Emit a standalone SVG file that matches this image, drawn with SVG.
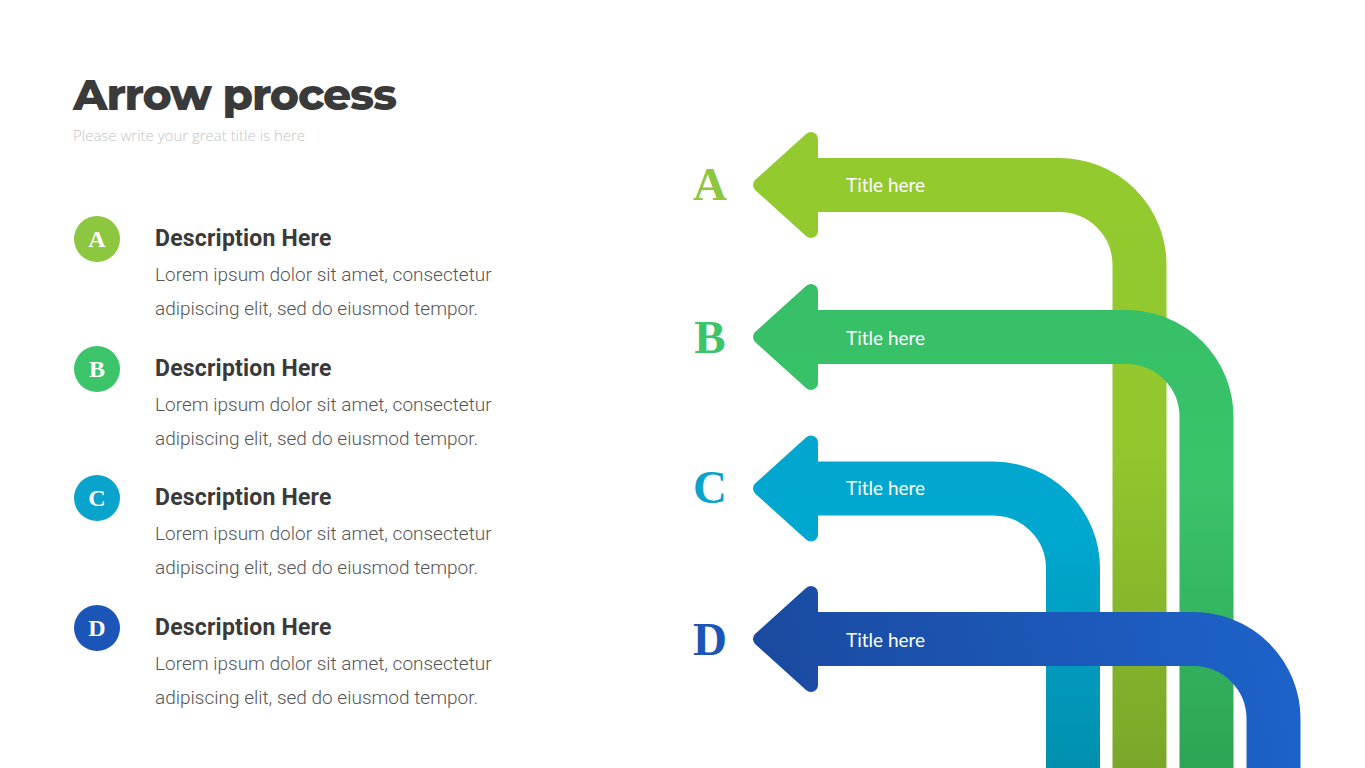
<svg xmlns="http://www.w3.org/2000/svg" width="1365" height="768" viewBox="0 0 1365 768">
<defs>
<linearGradient id="gA" gradientUnits="userSpaceOnUse" x1="0" y1="130" x2="0" y2="768"><stop offset="0" stop-color="#93cb2f"/><stop offset="0.5" stop-color="#92c72e"/><stop offset="1" stop-color="#7aa72a"/></linearGradient>
<linearGradient id="gB" gradientUnits="userSpaceOnUse" x1="0" y1="285" x2="0" y2="768"><stop offset="0" stop-color="#36bf66"/><stop offset="0.4" stop-color="#3ac46a"/><stop offset="1" stop-color="#2ea455"/></linearGradient>
<linearGradient id="gC" gradientUnits="userSpaceOnUse" x1="0" y1="435" x2="0" y2="768"><stop offset="0" stop-color="#02a6ce"/><stop offset="0.3" stop-color="#00a8cf"/><stop offset="1" stop-color="#028fae"/></linearGradient>
<linearGradient id="gD" gradientUnits="userSpaceOnUse" x1="752" y1="690" x2="1300" y2="600"><stop offset="0" stop-color="#1a4a9f"/><stop offset="1" stop-color="#1d63cb"/></linearGradient>
</defs>
<style>
.shaft{fill:none;stroke-width:54}
.head{stroke-width:14;stroke-linejoin:round}
.ttl{font-family:Lato,"Open Sans",sans-serif;font-size:19px;fill:#ffffff}
.big{font-family:"Liberation Serif",serif;font-weight:bold;font-size:47px;text-anchor:middle}
.cl{font-family:"Liberation Serif",serif;font-weight:bold;font-size:24px;fill:#ffffff;text-anchor:middle}
.dh{font-family:Roboto,sans-serif;font-weight:bold;font-size:23px;letter-spacing:0.2px;fill:#3a3a3a}
.dt{font-family:Roboto,sans-serif;font-weight:300;font-size:19px;fill:#555555}
</style>
<rect width="1365" height="768" fill="#ffffff"/>
<g id="header">
<text x="73" y="110" font-family="Montserrat,'Noto Sans',sans-serif" font-weight="800" font-size="44" letter-spacing="-1.2" fill="#3a3a3a">Arrow process</text>
<text x="73" y="141" font-family="'Open Sans',sans-serif" font-weight="300" font-size="15" fill="#c4c4c4">Please write your great title is here</text>
</g>
<g id="connectors">
<g id="arrowA">
<path class="shaft" stroke="url(#gA)" d="M 812 185 H 1059.5 A 80 80 0 0 1 1139.5 265 V 770"/>
<polygon class="head" fill="url(#gA)" stroke="url(#gA)" points="760,185 811,139 811,231"/>
</g>
<g id="arrowB">
<path class="shaft" stroke="url(#gB)" d="M 812 337 H 1126.5 A 80 80 0 0 1 1206.5 417 V 770"/>
<polygon class="head" fill="url(#gB)" stroke="url(#gB)" points="760,337 811,291 811,383"/>
</g>
<g id="arrowC">
<path class="shaft" stroke="url(#gC)" d="M 812 488.5 H 993 A 80 80 0 0 1 1073 568.5 V 770"/>
<polygon class="head" fill="url(#gC)" stroke="url(#gC)" points="760,488.5 811,442.5 811,534.5"/>
</g>
<g id="arrowD">
<path class="shaft" stroke="url(#gD)" d="M 812 639 H 1193.5 A 80 80 0 0 1 1273.5 719 V 770"/>
<polygon class="head" fill="url(#gD)" stroke="url(#gD)" points="760,639 811,593 811,685"/>
</g>
</g>
<g id="labels-right">
<text class="ttl" x="846" y="192">Title here</text>
<text class="ttl" x="846" y="345">Title here</text>
<text class="ttl" x="846" y="495">Title here</text>
<text class="ttl" x="846" y="647">Title here</text>
<text class="big" x="710" y="200" fill="#8dc63f">A</text>
<text class="big" x="710" y="353" fill="#3cc46a">B</text>
<text class="big" x="710" y="503" fill="#0aa3cc">C</text>
<text class="big" x="710" y="655" fill="#1b55b8">D</text>
</g>
<g id="itemA">
<circle cx="97" cy="239" r="23" fill="#8dc63f"/>
<text class="cl" x="97" y="247">A</text>
<text class="dh" x="155" y="246">Description Here</text>
<text class="dt" x="155" y="281">Lorem ipsum dolor sit amet, consectetur</text>
<text class="dt" x="155" y="315">adipiscing elit, sed do eiusmod tempor.</text>
</g>
<g id="itemB">
<circle cx="97" cy="369" r="23" fill="#3cc46a"/>
<text class="cl" x="97" y="377">B</text>
<text class="dh" x="155" y="376">Description Here</text>
<text class="dt" x="155" y="411">Lorem ipsum dolor sit amet, consectetur</text>
<text class="dt" x="155" y="445">adipiscing elit, sed do eiusmod tempor.</text>
</g>
<g id="itemC">
<circle cx="97" cy="498" r="23" fill="#0aa3cc"/>
<text class="cl" x="97" y="506">C</text>
<text class="dh" x="155" y="505">Description Here</text>
<text class="dt" x="155" y="540">Lorem ipsum dolor sit amet, consectetur</text>
<text class="dt" x="155" y="574">adipiscing elit, sed do eiusmod tempor.</text>
</g>
<g id="itemD">
<circle cx="97" cy="628" r="23" fill="#1b55b8"/>
<text class="cl" x="97" y="636">D</text>
<text class="dh" x="155" y="635">Description Here</text>
<text class="dt" x="155" y="670">Lorem ipsum dolor sit amet, consectetur</text>
<text class="dt" x="155" y="704">adipiscing elit, sed do eiusmod tempor.</text>
</g>
</svg>
